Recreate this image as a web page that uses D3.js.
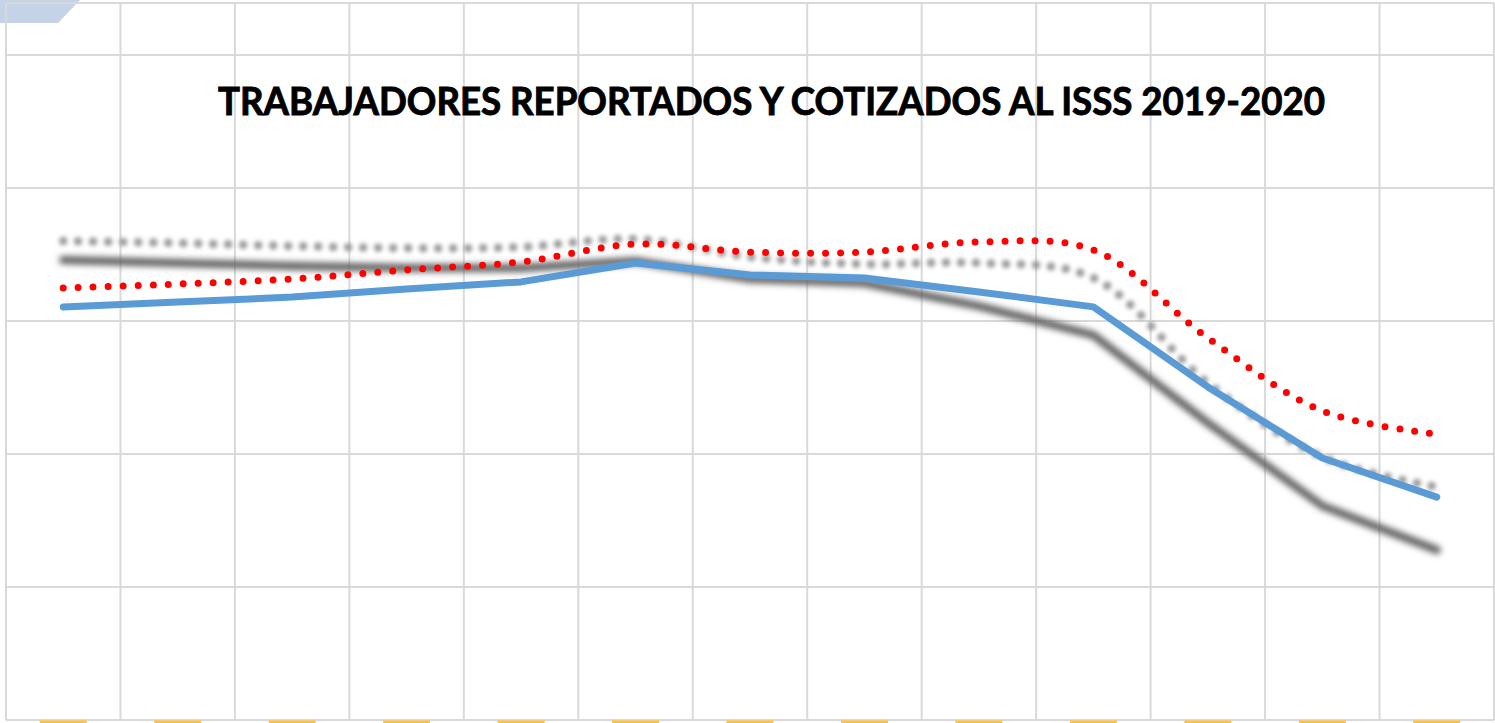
<!DOCTYPE html>
<html>
<head>
<meta charset="utf-8">
<script src="https://cdn.jsdelivr.net/npm/d3@7"></script>
<style>
    body { margin: 0; background: #fff; }
    #chart-container { width: 1495px; height: 723px; overflow: hidden; }
</style>
</head>
<body>
<div id="chart-container"></div>
<script>
// Data (workers per month)
const months = ['Jun-19', 'Jul-19', 'Ago-19', 'Sep-19', 'Oct-19', 'Nov-19', 'Dic-19',
                'Ene-20', 'Feb-20', 'Mar-20', 'Abr-20', 'May-20', 'Jun-20'];
const reportados2019 = [872900, 871800, 870700, 869900, 869900, 872600, 865800, 864300, 855600, 844700, 811700, 780500, 763900];
const reportados2020 = [880100, 879300, 878200, 877400, 877800, 880800, 874100, 871400, 871800, 866200, 826700, 798900, 787600];
const cotizados2019 = [862400, 863900, 865800, 869200, 872200, 878900, 875900, 875900, 879700, 876700, 843600, 816200, 807500];
const cotizados2020 = [855300, 857100, 859000, 862000, 864700, 871800, 867300, 866200, 860900, 855300, 825200, 798500, 783800];
const yTicks = [700000, 750000, 800000, 850000, 900000, 950000];

class TrabajadoresChart {
    constructor(container) {
        this.container = container;
        this.width = 1495;
        this.height = 723;
    }

    render() {
        const svg = d3.select(this.container)
            .append('svg')
            .attr('width', this.width)
            .attr('height', this.height);
        this.svg = svg;

        // Blur filters for the soft grey series
        const defs = svg.append('defs');
        defs.append('filter').attr('id', 'soft').attr('x', '-5%').attr('y', '-50%')
            .attr('width', '110%').attr('height', '200%')
            .append('feGaussianBlur').attr('stdDeviation', 3);
        defs.append('filter').attr('id', 'softer').attr('x', '-5%').attr('y', '-50%')
            .attr('width', '110%').attr('height', '200%')
            .append('feGaussianBlur').attr('stdDeviation', 2.2);

        // Scales
        this.x = d3.scaleBand().domain(months).range([6, 1494]);
        this.y = d3.scaleLinear().domain([700000, 950000]).range([720, 55]);
        const cx = d => this.x(d) + this.x.bandwidth() / 2;

        // Corner decoration
        svg.append('polygon')
            .attr('points', '0,0 80,0 58,23 0,23')
            .attr('fill', '#c5d3e8');

        // Grid
        const grid = svg.append('g').attr('class', 'grid')
            .attr('stroke', '#d9d9d9').attr('stroke-width', 2).attr('fill', 'none');

        grid.selectAll('.vline')
            .data(months.concat(['end']))
            .enter()
            .append('line')
            .attr('x1', (d, i) => i < months.length ? this.x(d) : this.x.range()[1])
            .attr('x2', (d, i) => i < months.length ? this.x(d) : this.x.range()[1])
            .attr('y1', 3)
            .attr('y2', 720);

        grid.selectAll('.hline')
            .data(yTicks)
            .enter()
            .append('line')
            .attr('x1', 6)
            .attr('x2', 1494)
            .attr('y1', d => this.y(d))
            .attr('y2', d => this.y(d));

        grid.append('line')
            .attr('x1', 6).attr('x2', 1494)
            .attr('y1', 3).attr('y2', 3);

        // Yellow label markers along the bottom edge (cut off)
        svg.selectAll('.label-box')
            .data(months)
            .enter()
            .append('rect')
            .attr('class', 'label-box')
            .attr('x', d => cx(d) - 23.5)
            .attr('y', 720.5)
            .attr('width', 47)
            .attr('height', 10)
            .attr('fill', '#ffc233');

        // Series
        const lineStraight = d3.line()
            .x((d, i) => cx(months[i]))
            .y(d => this.y(d));
        const lineSmooth = d3.line()
            .x((d, i) => cx(months[i]))
            .y(d => this.y(d))
            .curve(d3.curveCatmullRom.alpha(0.5));

        svg.append('path')
            .datum(reportados2019)
            .attr('d', lineStraight)
            .attr('fill', 'none')
            .attr('stroke', '#5e5e5e')
            .attr('stroke-width', 8)
            .attr('stroke-linejoin', 'round')
            .attr('stroke-linecap', 'round')
            .attr('filter', 'url(#soft)');

        svg.append('path')
            .datum(reportados2020)
            .attr('d', lineSmooth)
            .attr('fill', 'none')
            .attr('stroke', '#9a9a9a')
            .attr('stroke-width', 8.5)
            .attr('stroke-linecap', 'round')
            .attr('stroke-dasharray', '0 15')
            .attr('filter', 'url(#softer)');

        svg.append('path')
            .datum(cotizados2019)
            .attr('d', lineSmooth)
            .attr('fill', 'none')
            .attr('stroke', '#ff0000')
            .attr('stroke-width', 7)
            .attr('stroke-linecap', 'round')
            .attr('stroke-dasharray', '0 15');

        svg.append('path')
            .datum(cotizados2020)
            .attr('d', lineStraight)
            .attr('fill', 'none')
            .attr('stroke', '#5b9bd5')
            .attr('stroke-width', 7)
            .attr('stroke-linejoin', 'round')
            .attr('stroke-linecap', 'round');

        // Title
        svg.append('text')
            .attr('x', 771.5)
            .attr('y', 115)
            .attr('text-anchor', 'middle')
            .attr('font-family', 'Lato, "Open Sans", sans-serif')
            .attr('font-weight', 'bold')
            .attr('font-size', '37.5px')
            .attr('fill', '#000')
            .attr('stroke', '#000')
            .attr('stroke-width', 0.9)
            .attr('textLength', 1107)
            .attr('lengthAdjust', 'spacingAndGlyphs')
            .text('TRABAJADORES REPORTADOS Y COTIZADOS AL ISSS 2019-2020');
    }
}

new TrabajadoresChart(document.getElementById('chart-container')).render();
</script>
</body>
</html>
